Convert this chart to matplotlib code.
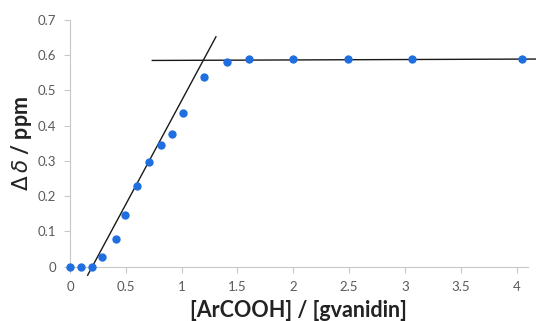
import matplotlib.pyplot as plt

plt.rcParams['font.family'] = ['Lato', 'DejaVu Sans']

# data
ratio = [0, 0.1, 0.2, 0.29, 0.41, 0.495, 0.6, 0.705, 0.815, 0.91, 1.015,
         1.2, 1.41, 1.6, 2.0, 2.49, 3.06, 4.05]
shift = [0, 0, 0, 0.028, 0.078, 0.147, 0.229, 0.298, 0.346, 0.377, 0.437,
         0.538, 0.58, 0.589, 0.589, 0.589, 0.589, 0.589]

# the two fitted lines
rise_x = [0.158, 1.307]
rise_y = [-0.024, 0.652]
flat_x = [0.737, 4.17]
flat_y = [0.585, 0.589]

xticks = [0, 0.5, 1, 1.5, 2, 2.5, 3, 3.5, 4]
xlabels = ['0', '0.5', '1', '1.5', '2', '2.5', '3', '3.5', '4']
yticks = [0, 0.1, 0.2, 0.3, 0.4, 0.5, 0.6, 0.7]
ylabels = ['0', '0.1', '0.2', '0.3', '0.4', '0.5', '0.6', '0.7']

fig = plt.figure(figsize=(5.36, 3.21), dpi=100)
ax = fig.add_axes([0.1306, 0.169, 0.854, 0.769])

ax.plot(rise_x, rise_y, color='#1a1a1a', lw=1.0, clip_on=False, zorder=2)
ax.plot(flat_x, flat_y, color='#1a1a1a', lw=1.0, clip_on=False, zorder=2)
ax.plot(ratio, shift, 'o', color='#1f6fe0', ms=6, mec='none', clip_on=False, zorder=3)

ax.set_xlim(0, 4.1)
ax.set_ylim(0, 0.7)
ax.set_xticks(xticks)
ax.set_xticklabels(xlabels)
ax.set_yticks(yticks)
ax.set_yticklabels(ylabels)

for s in ['top', 'right']:
    ax.spines[s].set_visible(False)
for s in ['left', 'bottom']:
    ax.spines[s].set_color('#c8c8c8')
    ax.spines[s].set_linewidth(0.8)
ax.tick_params(colors='#c8c8c8', labelcolor='#5a5a5a', labelsize=9.5, length=4, width=0.8)
ax.tick_params(axis='x', pad=6)
ax.tick_params(axis='y', pad=6)

ax.set_xlabel('[ArCOOH] / [gvanidin]', fontsize=15.5, fontweight='bold', color='#222222', labelpad=5)
ax.set_ylabel(r'$\Delta\,\mathit{\delta}$ / ppm', fontsize=15.5, fontweight='bold', color='#222222')
ax.yaxis.set_label_coords(-0.079, 0.5)

fig.savefig('out.png', dpi=100)
